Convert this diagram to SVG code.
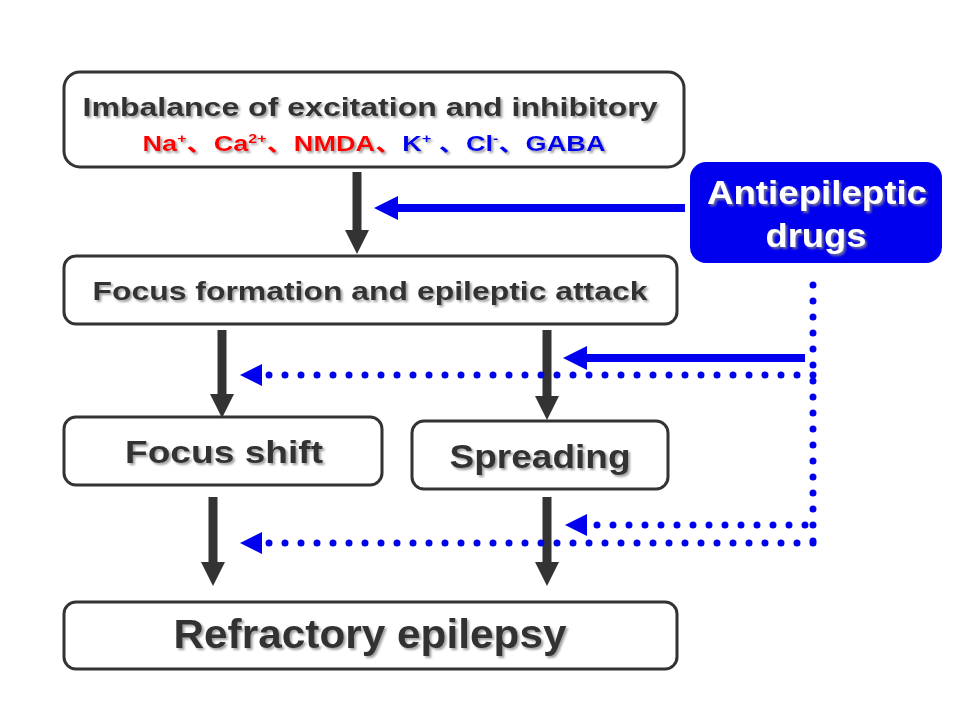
<svg xmlns="http://www.w3.org/2000/svg" width="960" height="720" viewBox="0 0 960 720">
<defs>
<filter id="sh" x="-10%" y="-30%" width="120%" height="160%"><feDropShadow dx="2" dy="2" stdDeviation="1.2" flood-color="#888" flood-opacity="0.8"/></filter>
</defs>
<style>
.box{fill:#fff;stroke:#333;stroke-width:3}
.t{font-family:"Liberation Sans",Arial,sans-serif;font-weight:bold;fill:#333;text-anchor:middle;filter:url(#sh)}
.blk{stroke:#333;stroke-width:9;fill:none}
.hd{fill:#333}
.dot{stroke:#00e;stroke-width:7;stroke-linecap:round;stroke-dasharray:0 16;fill:none}
.bl{fill:#00e}
</style>
<rect width="960" height="720" fill="#fff"/>
<g id="n1"><rect class="box" x="64" y="72" width="620" height="95" rx="16"/>
<text class="t" x="370" y="116" font-size="26" textLength="575" lengthAdjust="spacingAndGlyphs">Imbalance of excitation and inhibitory</text>
<text x="374" y="151" font-family="'Liberation Sans','Noto Sans CJK SC',sans-serif" font-weight="bold" font-size="22" text-anchor="middle" filter="url(#sh)" textLength="463" lengthAdjust="spacingAndGlyphs"><tspan fill="#f00">Na<tspan font-size="13" dy="-8">+</tspan><tspan dy="8">、Ca</tspan><tspan font-size="13" dy="-8">2+</tspan><tspan dy="8">、NMDA、</tspan></tspan><tspan fill="#00e">K<tspan font-size="13" dy="-8">+</tspan><tspan dy="8"> 、Cl</tspan><tspan font-size="13" dy="-8">-</tspan><tspan dy="8">、GABA</tspan></tspan></text></g>
<g id="n2"><rect class="box" x="64" y="256" width="613" height="68" rx="12"/>
<text class="t" x="370" y="300" font-size="26" textLength="555" lengthAdjust="spacingAndGlyphs">Focus formation and epileptic attack</text></g>
<g id="n3"><rect class="box" x="64" y="417" width="318" height="68" rx="12"/>
<text class="t" x="224" y="463" font-size="32" textLength="198" lengthAdjust="spacingAndGlyphs">Focus shift</text></g>
<g id="n4"><rect class="box" x="412" y="421" width="256" height="68" rx="12"/>
<text class="t" x="540" y="468" font-size="34" textLength="181" lengthAdjust="spacingAndGlyphs">Spreading</text></g>
<g id="n5"><rect class="box" x="64" y="602" width="613" height="67" rx="12"/>
<text class="t" x="370" y="648" font-size="40" textLength="393" lengthAdjust="spacingAndGlyphs">Refractory epilepsy</text></g>
<g id="n6"><rect x="690" y="162" width="252" height="101" rx="16" fill="#00e"/>
<text class="t" x="817" y="204" font-size="34" style="fill:#fff" textLength="220" lengthAdjust="spacingAndGlyphs">Antiepileptic</text>
<text class="t" x="816" y="247" font-size="34" style="fill:#fff" textLength="101" lengthAdjust="spacingAndGlyphs">drugs</text></g>
<g id="connectors">
<line class="blk" x1="357" y1="172" x2="357" y2="232"/><polygon class="hd" points="345,230 369,230 357,254"/>
<line class="blk" x1="222" y1="330" x2="222" y2="396"/><polygon class="hd" points="210,394 234,394 222,418"/>
<line class="blk" x1="547" y1="330" x2="547" y2="398"/><polygon class="hd" points="535,396 559,396 547,420"/>
<line class="blk" x1="213" y1="497" x2="213" y2="564"/><polygon class="hd" points="201,562 225,562 213,586"/>
<line class="blk" x1="547" y1="497" x2="547" y2="564"/><polygon class="hd" points="535,562 559,562 547,586"/>
<line x1="685" y1="208" x2="395" y2="208" stroke="#00e" stroke-width="8"/><polygon class="bl" points="374,208 398,196 398,220"/>
<line x1="805" y1="358" x2="585" y2="358" stroke="#00e" stroke-width="8"/><polygon class="bl" points="563,358 587,346 587,370"/>
<path class="dot" d="M813,285 V543"/>
<path class="dot" d="M813,375 H263"/><polygon class="bl" points="240,375 262,364 262,386"/>
<path class="dot" d="M805,525 H589"/><polygon class="bl" points="565,525 587,514 587,536"/>
<path class="dot" d="M813,543 H263"/><polygon class="bl" points="240,543 262,532 262,554"/>
</g>
</svg>
